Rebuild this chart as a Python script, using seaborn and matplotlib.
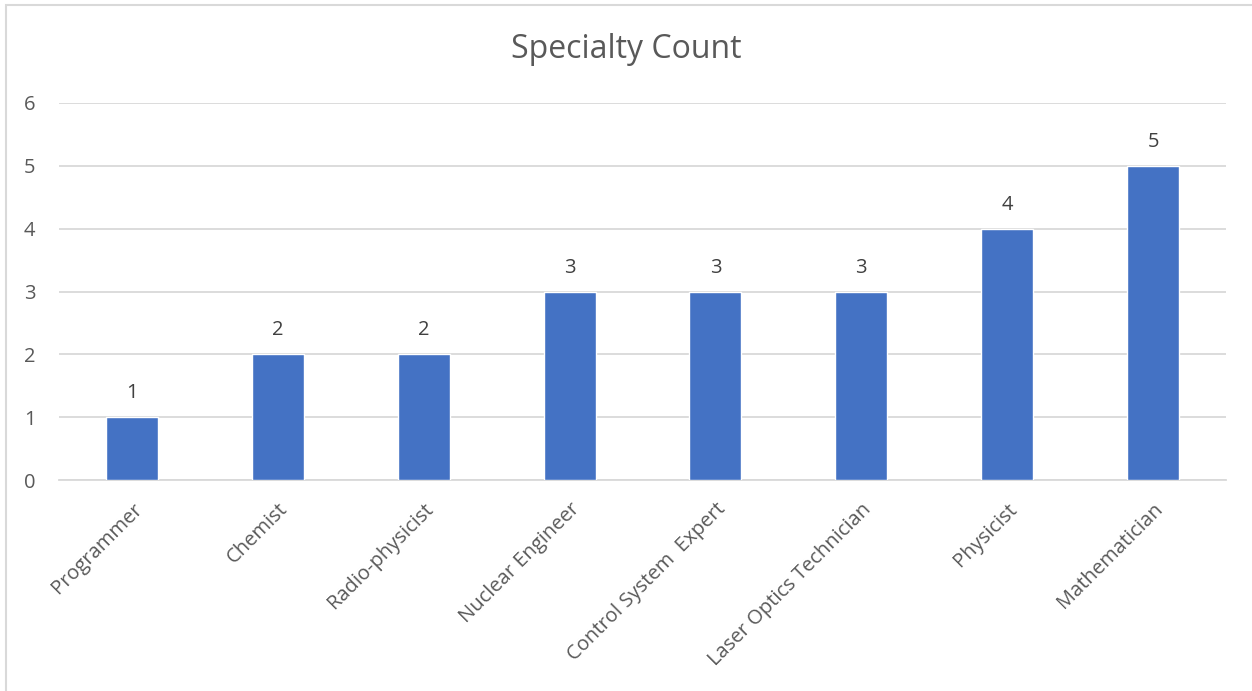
import matplotlib
matplotlib.use('Agg')
import matplotlib.pyplot as plt
import seaborn as sns
import pandas as pd

# Donnees du graphique
specialties = ['Programmer', 'Chemist', 'Radio-physicist', 'Nuclear Engineer',
               'Control System  Expert', 'Laser Optics Technician',
               'Physicist', 'Mathematician']
counts = [1, 2, 2, 3, 3, 3, 4, 5]
y_ticks = [0, 1, 2, 3, 4, 5, 6]

df = pd.DataFrame({'specialty': specialties, 'count': counts})

sns.set_style('white')
plt.rcParams['font.family'] = ['Open Sans', 'DejaVu Sans']

text_color = '#595959'
grid_color = '#d9d9d9'

fig = plt.figure(figsize=(12.52, 6.91), dpi=100)
ax = fig.add_axes([59 / 1252, 1 - 480 / 691, (1226 - 59) / 1252, (480 - 103) / 691])

sns.barplot(data=df, x='specialty', y='count', color='#4472C4',
            width=0.356, saturation=1, ax=ax, zorder=3)

ax.set_ylim(0, 6)
ax.set_xlim(-0.5, len(specialties) - 0.5)
ax.set_yticks(y_ticks)
ax.yaxis.grid(True, color=grid_color, linewidth=1.3, zorder=0)
ax.set_axisbelow(True)
for side in ['top', 'right', 'left']:
    ax.spines[side].set_visible(False)
ax.spines['bottom'].set_color(grid_color)
ax.spines['bottom'].set_linewidth(1.3)
ax.tick_params(axis='both', length=0, labelsize=14.5, labelcolor=text_color)
ax.tick_params(axis='y', pad=17)
ax.tick_params(axis='x', pad=14)
plt.setp(ax.get_xticklabels(), rotation=45, ha='right', rotation_mode='anchor')
ax.set_xlabel('')
ax.set_ylabel('')

# Etiquettes de valeurs
for container in ax.containers:
    ax.bar_label(container, padding=10, fontsize=14.5, color='#404040')

fig.text(0.5, 1 - 50 / 691, 'Specialty Count', ha='center', va='center',
         fontsize=23, color=text_color)

# Cadre du graphique
frame = plt.Rectangle((6 / 1252, -0.05), 1.2, 1 - 5 / 691 + 0.05,
                      transform=fig.transFigure, fill=False,
                      edgecolor=grid_color, linewidth=1.5)
fig.patches.append(frame)

fig.savefig('out.png', dpi=100)
